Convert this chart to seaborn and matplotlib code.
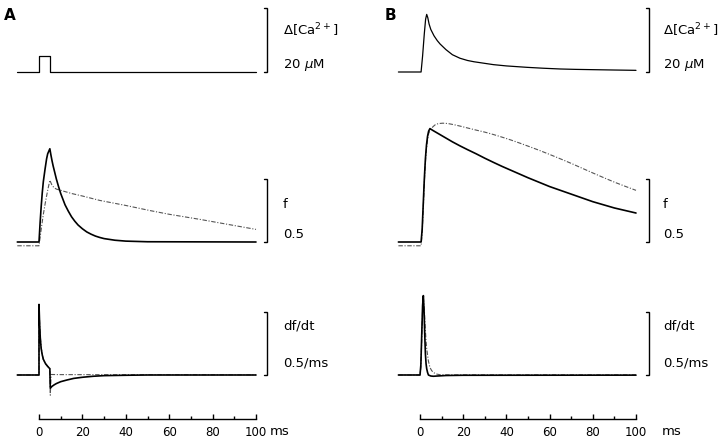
"""
plot.py - Ca2+ step vs. slow Ca2+ transient : fraction bound f and df/dt
"""

import pandas as pd
import matplotlib
matplotlib.use("Agg")
import matplotlib.pyplot as plt
from matplotlib.ticker import FixedLocator
import seaborn as sns

sns.set_style("white")
plt.rcParams["font.family"] = ["DejaVu Sans"]
plt.rcParams["mathtext.fontset"] = "dejavusans"
plt.rcParams["text.color"] = "black"
plt.rcParams["xtick.color"] = "black"
plt.rcParams["xtick.labelcolor"] = "black"

# ---------------------------------------------------------------- data
# panel A : 5 ms rectangular calcium pulse (uM)
A_CA_T = [-10, 0, 0, 5, 5, 100]
A_CA = [0, 0, 5, 5, 0, 0]

# panel A : f, solid and dashed model
A_F_T = [-10, 0, 0.5, 1, 1.5, 2, 2.8, 3.5, 4, 5, 5.5, 6, 6.5, 7, 8, 9, 10, 11,
         12, 13.5, 15, 16.5, 18, 20, 22, 24, 26, 28, 30, 35, 40, 50, 100]
A_F = [0, 0, 0.15, 0.28, 0.39, 0.48, 0.58, 0.66, 0.70, 0.74, 0.69, 0.645, 0.605,
       0.57, 0.50, 0.44, 0.385, 0.34, 0.295, 0.245, 0.20, 0.165, 0.135, 0.105,
       0.08, 0.062, 0.047, 0.036, 0.027, 0.014, 0.007, 0.002, 0]
A_F2_T = [-10, 0, 1, 2, 3, 4, 5, 6, 7, 8, 10, 15, 20, 28, 40, 51, 60, 74, 87, 100]
A_F2 = [-0.03, -0.03, 0.10, 0.22, 0.32, 0.41, 0.49, 0.45, 0.43, 0.42, 0.41,
        0.385, 0.365, 0.33, 0.29, 0.25, 0.22, 0.18, 0.14, 0.10]

# panel A : df/dt (1/ms)
A_D_T = [-10, 0, 0, 0.3, 0.6, 1, 1.5, 2, 3, 4, 5, 5.2, 6, 7, 8, 10, 12.8, 16,
         20, 25, 30, 40, 50, 100]
A_D = [0, 0, 0.56, 0.40, 0.29, 0.21, 0.16, 0.125, 0.09, 0.068, 0.05, -0.105,
       -0.09, -0.078, -0.068, -0.053, -0.04, -0.027, -0.018, -0.01, -0.005,
       -0.002, 0, 0]
A_D2_T = [-10, 0, 0, 0.3, 0.6, 1, 1.5, 2, 3, 4, 5, 5.2, 5.6, 10, 100]
A_D2 = [0, 0, 0.52, 0.42, 0.31, 0.22, 0.16, 0.12, 0.09, 0.07, 0.05, -0.16,
        0.004, 0.003, 0.001]

# panel B : calcium transient (uM)
B_CA_T = [-10, 0.5, 1.2, 2, 2.6, 3.1, 3.6, 4.2, 5, 6.5, 8, 9.3, 12, 15, 18.5,
          22, 25, 30, 34, 40, 49.5, 57, 65, 72, 80, 90, 100]
B_CA = [0, 0, 5, 12, 16.5, 18, 17, 15, 13.3, 11.3, 9.8, 8.75, 7, 5.4, 4.3,
        3.6, 3.2, 2.7, 2.3, 1.9, 1.46, 1.18, 0.94, 0.82, 0.73, 0.62, 0.52]

# panel B : f
B_F_T = [-10, 0.5, 1, 1.5, 2, 2.5, 3, 3.5, 4, 4.6, 6, 8, 10, 12.5, 15, 18.5,
         22, 26, 30, 34, 38, 42, 46, 50, 55, 60, 65, 70, 75, 80, 85, 90, 95, 100]
B_F = [0, 0, 0.1, 0.3, 0.5, 0.66, 0.77, 0.84, 0.88, 0.90, 0.885, 0.865, 0.845,
       0.82, 0.795, 0.763, 0.733, 0.70, 0.665, 0.632, 0.60, 0.57, 0.54, 0.51,
       0.475, 0.44, 0.41, 0.38, 0.35, 0.32, 0.295, 0.27, 0.25, 0.23]
B_F2_T = [-10, 0.5, 1, 1.5, 2, 2.5, 3, 3.5, 4, 4.6, 6, 7, 8.5, 10.6, 13, 16,
          19, 22, 26, 30, 34, 38, 42, 46, 50, 55, 60, 65, 70, 75, 80, 85, 90,
          95, 100]
B_F2 = [-0.03, -0.03, 0.07, 0.26, 0.47, 0.63, 0.74, 0.81, 0.86, 0.885, 0.915,
        0.93, 0.94, 0.943, 0.94, 0.93, 0.918, 0.905, 0.888, 0.872, 0.853,
        0.832, 0.81, 0.786, 0.761, 0.729, 0.695, 0.66, 0.624, 0.586, 0.548,
        0.511, 0.475, 0.442, 0.41]

# panel B : df/dt
B_D_T = [-10, 0, 0.4, 0.8, 1.2, 1.55, 1.9, 2.2, 2.5, 2.8, 3.1, 3.5, 3.9, 5,
         6.2, 8, 12, 20, 100]
B_D = [0, 0, 0.08, 0.32, 0.55, 0.63, 0.50, 0.32, 0.17, 0.09, 0.05, 0.02, 0,
       -0.008, -0.01, -0.008, -0.004, -0.002, -0.001]
B_D2_T = [-10, 0, 0.4, 0.8, 1.2, 1.6, 2.0, 2.4, 2.8, 3.1, 3.9, 4.6, 5.4, 6.2,
          7.5, 9.3, 15, 100]
B_D2 = [0, 0, 0.06, 0.28, 0.52, 0.61, 0.52, 0.38, 0.27, 0.21, 0.11, 0.06,
        0.035, 0.02, 0.008, 0.002, 0.001, 0.001]

SCALE_CA = 20      # uM
SCALE_F = 0.5
SCALE_D = 0.5      # 1/ms
CA_LABELS = ["$\\Delta$[Ca$^{2+}$]", "20 $\\mu$M"]
F_LABELS = ["f", "0.5"]
D_LABELS = ["df/dt", "0.5/ms"]
TICKS = [0, 20, 40, 60, 80, 100]
MINOR_TICKS = [10, 30, 50, 70, 90]

# ---------------------------------------------------------------- layout
W, H = 720, 439
fig = plt.figure(figsize=(W / 100, H / 100), dpi=100)

SOLID = dict(color="black", lw=1.2)
THIN = dict(color="black", lw=0.9)
DASH = dict(color="#555555", lw=0.8, linestyle=(0, (4, 1.5, 1, 1.5)))


def add_ax(x0, x1, t0, t100, y0, y1, base, ppu):
    """axes in pixel box, with t=0/100 at px t0/t100 and value 0 at px base"""
    ax = fig.add_axes([x0 / W, 1 - y1 / H, (x1 - x0) / W, (y1 - y0) / H])
    s = (t100 - t0) / 100
    ax.set_xlim((x0 - t0) / s, (x1 - t0) / s)
    ax.set_ylim((base - y1) / ppu, (base - y0) / ppu)
    for sp in ax.spines.values():
        sp.set_visible(False)
    ax.set_xticks([])
    ax.set_yticks([])
    ax.patch.set_alpha(0)
    return ax


def trace(ax, t, v, style):
    df = pd.DataFrame({"t": t, "v": v})
    sns.lineplot(data=df, x="t", y="v", ax=ax, estimator=None, sort=False, **style)
    ax.set_xlabel("")
    ax.set_ylabel("")


def scale_bar(ax, xb, size, tick=1.3):
    ax.plot([xb - tick, xb, xb, xb - tick], [0, 0, size, size],
            color="black", lw=1.0, solid_joinstyle="miter")


columns = [
    dict(x=(0, 360), t0=39, t100=256, bar=105.1, txt=283, ms=270, letter=("A", 4),
         ca=[(A_CA_T, A_CA, THIN)],
         f=[(A_F2_T, A_F2, DASH), (A_F_T, A_F, SOLID)],
         d=[(A_D2_T, A_D2, DASH), (A_D_T, A_D, SOLID)]),
    dict(x=(360, 720), t0=420, t100=636, bar=106.0, txt=663, ms=662, letter=("B", 385),
         ca=[(B_CA_T, B_CA, THIN)],
         f=[(B_F2_T, B_F2, DASH), (B_F_T, B_F, SOLID)],
         d=[(B_D2_T, B_D2, DASH), (B_D_T, B_D, SOLID)]),
]

for col in columns:
    x0, x1 = col["x"]
    t0, t100 = col["t0"], col["t100"]

    ax_ca = add_ax(x0, x1, t0, t100, 0, 100, 73, 3.2)
    for t, v, st in col["ca"]:
        trace(ax_ca, t, v, st)
    scale_bar(ax_ca, col["bar"], SCALE_CA)

    ax_f = add_ax(x0, x1, t0, t100, 100, 270, 243, 126)
    for t, v, st in col["f"]:
        trace(ax_f, t, v, st)
    scale_bar(ax_f, col["bar"], SCALE_F)

    ax_d = add_ax(x0, x1, t0, t100, 270, 420, 376, 126)
    for t, v, st in col["d"]:
        trace(ax_d, t, v, st)
    scale_bar(ax_d, col["bar"], SCALE_D)

    # time axis (ticks pointing up)
    ax_d.spines["bottom"].set_visible(True)
    ax_d.spines["bottom"].set_color("black")
    ax_d.spines["bottom"].set_linewidth(1.0)
    ax_d.spines["bottom"].set_bounds(0, 100)
    ax_d.set_xticks(TICKS)
    ax_d.xaxis.set_minor_locator(FixedLocator(MINOR_TICKS))
    ax_d.tick_params(axis="x", which="major", direction="in", length=3.5,
                     width=1.0, labelsize=8.5, pad=4, bottom=True)
    ax_d.tick_params(axis="x", which="minor", direction="in", length=2,
                     width=1.0, bottom=True)

    tx = col["txt"] / W
    fig.text(tx, 1 - 30 / H, CA_LABELS[0], fontsize=9.5, va="center")
    fig.text(tx, 1 - 65 / H, CA_LABELS[1], fontsize=9.5, va="center")
    fig.text(tx, 1 - 205 / H, F_LABELS[0], fontsize=9.5, va="center")
    fig.text(tx, 1 - 235 / H, F_LABELS[1], fontsize=9.5, va="center")
    fig.text(tx, 1 - 326 / H, D_LABELS[0], fontsize=9.5, va="center")
    fig.text(tx, 1 - 363 / H, D_LABELS[1], fontsize=9.5, va="center")
    fig.text(col["ms"] / W, 1 - 432 / H, "ms", fontsize=9.5, va="center")

    lt, lx = col["letter"]
    fig.text(lx / W, 1 - 15 / H, lt, fontsize=11, fontweight="bold", va="center")

fig.savefig("out.png", dpi=100)
